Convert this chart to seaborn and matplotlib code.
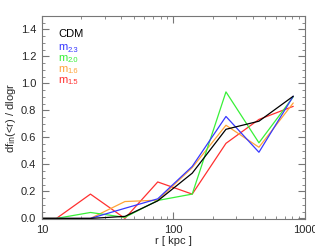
import numpy as np
import pandas as pd
import matplotlib
matplotlib.use('Agg')
import matplotlib.pyplot as plt
import seaborn as sns
from matplotlib.ticker import MultipleLocator, FixedLocator, FixedFormatter, LogLocator, NullFormatter

# radial bins (kpc), the first one lies outside the plotted range
r = [7.2, 12.9, 23.4, 42.8, 76.0, 139.0, 251.0, 447.0, 815.0]

cdm = [0.0, 0.0, 0.0, 0.015, 0.13, 0.335, 0.66, 0.72, 0.905]
m23 = [0.0, 0.0, 0.0, 0.075, 0.145, 0.385, 0.755, 0.49, 0.905]
m20 = [0.0, 0.0, 0.044, 0.008, 0.133, 0.18, 0.937, 0.56, 0.90]
m16 = [0.0, 0.0, 0.0, 0.125, 0.135, 0.376, 0.69, 0.527, 0.855]
m15 = [0.0, 0.0, 0.18, 0.0, 0.27, 0.18, 0.556, 0.733, 0.83]

models = ['CDM', 'm2.3', 'm2.0', 'm1.6', 'm1.5']
subs = ['', '2.3', '2.0', '1.6', '1.5']
colors = ['#000000', '#3838ff', '#38f038', '#ffa438', '#ff3030']

df = pd.concat([
    pd.DataFrame({'r': r, 'val': v, 'model': m})
    for m, v in zip(models, [cdm, m23, m20, m16, m15])
])

sns.set_style('ticks')
plt.rcParams['font.family'] = ['Liberation Sans', 'DejaVu Sans']

fig = plt.figure(figsize=(3.15, 2.52), dpi=100)
ax = fig.add_axes([0.133, 0.129, 0.835, 0.808])

# draw coloured models first, CDM on top
order = ['m1.5', 'm1.6', 'm2.0', 'm2.3', 'CDM']
sns.lineplot(data=df, x='r', y='val', hue='model', hue_order=order,
             palette=dict(zip(models, colors)), estimator=None, sort=False,
             linewidth=0.9, legend=False, ax=ax)

ax.set_xscale('log')
ax.set_xlim(10, 1000)
ax.set_ylim(-0.008, 1.5)
ax.xaxis.set_major_locator(FixedLocator([10, 100, 1000]))
ax.xaxis.set_major_formatter(FixedFormatter(['10', '100', '1000']))
ax.xaxis.set_minor_locator(LogLocator(base=10, subs=np.arange(2, 10)))
ax.xaxis.set_minor_formatter(NullFormatter())
ax.yaxis.set_major_locator(MultipleLocator(0.2))
ax.yaxis.set_minor_locator(MultipleLocator(0.05))
ax.yaxis.set_major_formatter(matplotlib.ticker.FormatStrFormatter('%.1f'))

for s in ax.spines.values():
    s.set_color('#777777')
    s.set_linewidth(0.8)
ax.tick_params(which='both', direction='in', top=True, right=True,
               color='#777777', labelsize=8, pad=4)
ax.tick_params(which='major', length=5)
ax.tick_params(which='minor', length=2.5)

ax.set_xlabel('r [ kpc ]', fontsize=8, labelpad=1)
ax.set_ylabel(r'df$_{\rm in}$(<r) / dlogr', fontsize=8, labelpad=2)

ys = [0.91, 0.848, 0.795, 0.741, 0.687]
for m, sub, c, yy in zip(models, subs, colors, ys):
    if sub == '':
        ax.text(0.062, yy, m, color=c, fontsize=8,
                transform=ax.transAxes, va='center', ha='left')
    else:
        ax.text(0.062, yy, 'm', color=c, fontsize=8,
                transform=ax.transAxes, va='center', ha='left')
        ax.annotate(sub, xy=(0.062, yy), xycoords='axes fraction',
                    xytext=(7.0, -2.4), textcoords='offset points',
                    color=c, fontsize=5.5, va='center', ha='left')

fig.savefig('out.png', dpi=100)
